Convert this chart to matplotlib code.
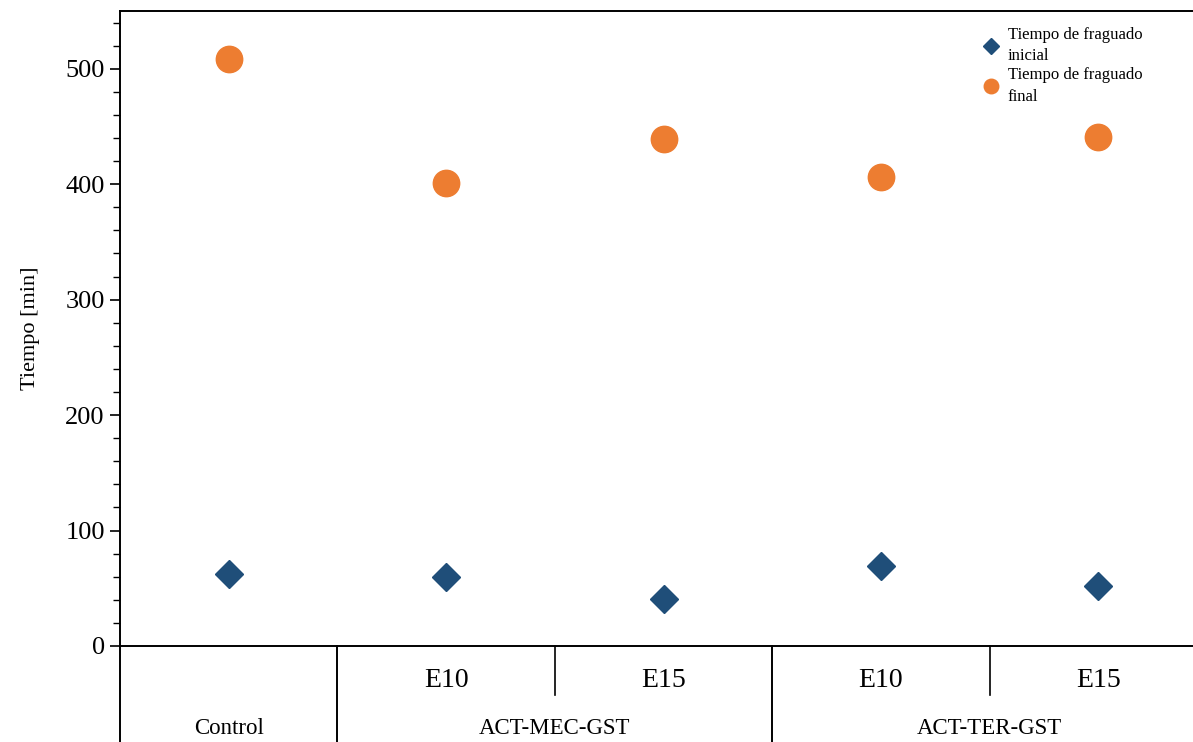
import matplotlib
matplotlib.use("Agg")
import matplotlib.pyplot as plt
from matplotlib.ticker import MultipleLocator
import matplotlib.transforms as mtransforms

plt.rcParams['font.family'] = ['Liberation Serif', 'DejaVu Serif']

# Data
groups = ["Control", "ACT-MEC-GST", "ACT-TER-GST"]
group_sizes = [1, 2, 2]
sublabels = ["", "E10", "E15", "E10", "E15"]
t_inicial = [62, 60, 41, 69, 52]
t_final = [508, 401, 439, 406, 441]
series_names = ["Tiempo de fraguado\ninicial", "Tiempo de fraguado\nfinal"]

blue = "#1F4E79"
orange = "#ED7D31"

fig = plt.figure(figsize=(11.93, 7.42), dpi=100)
ax = fig.add_axes([120/1193, 1 - 646/742, 1087/1193, 635/742])

x = list(range(len(sublabels)))
ax.plot(x, t_inicial, linestyle="none", marker="D", markersize=14,
        color=blue, label=series_names[0], zorder=3)
ax.plot(x, t_final, linestyle="none", marker="o", markersize=19,
        color=orange, label=series_names[1], zorder=3)

ax.set_xlim(-0.5, len(sublabels) - 0.5)
ax.set_ylim(0, 550)
ax.yaxis.set_major_locator(MultipleLocator(100))
ax.yaxis.set_minor_locator(MultipleLocator(20))
ax.tick_params(axis="y", which="major", direction="out", length=7, width=1.2,
               labelsize=19, pad=4)
ax.tick_params(axis="y", which="minor", direction="out", length=5, width=1.0)
ax.set_xticks([])
for side in ["top", "left", "bottom"]:
    ax.spines[side].set_linewidth(1.4)
ax.spines["right"].set_visible(False)
ax.set_ylabel("Tiempo [min]", fontsize=16, labelpad=18)

# Two-level category axis below the plot
trans = mtransforms.blended_transform_factory(ax.transData, ax.transAxes)
y_sub = -0.054
y_grp = -0.13
y_short = -0.077
y_long = -0.16

for i, lab in enumerate(sublabels):
    if lab:
        ax.text(i, y_sub, lab, transform=trans, ha="center", va="center",
                fontsize=20)

start = 0
for g, n in zip(groups, group_sizes):
    center = start + (n - 1) / 2
    ax.text(center, y_grp, g, transform=trans, ha="center", va="center",
            fontsize=16.5)
    ax.plot([start - 0.5, start - 0.5], [0, y_long], transform=trans,
            color="black", lw=1.4, clip_on=False)
    for k in range(1, n):
        ax.plot([start + k - 0.5] * 2, [0, y_short], transform=trans,
                color="black", lw=1.2, clip_on=False)
    start += n

leg = ax.legend(loc="upper left", bbox_to_anchor=(976/1193, 1 - 20/742),
                bbox_transform=fig.transFigure, frameon=False, fontsize=12,
                markerscale=0.55, handlelength=1.0, handletextpad=0.5,
                labelspacing=0.2, borderaxespad=0)
for t in leg.get_texts():
    t.set_linespacing(1.45)

fig.savefig("out.png", dpi=100)
